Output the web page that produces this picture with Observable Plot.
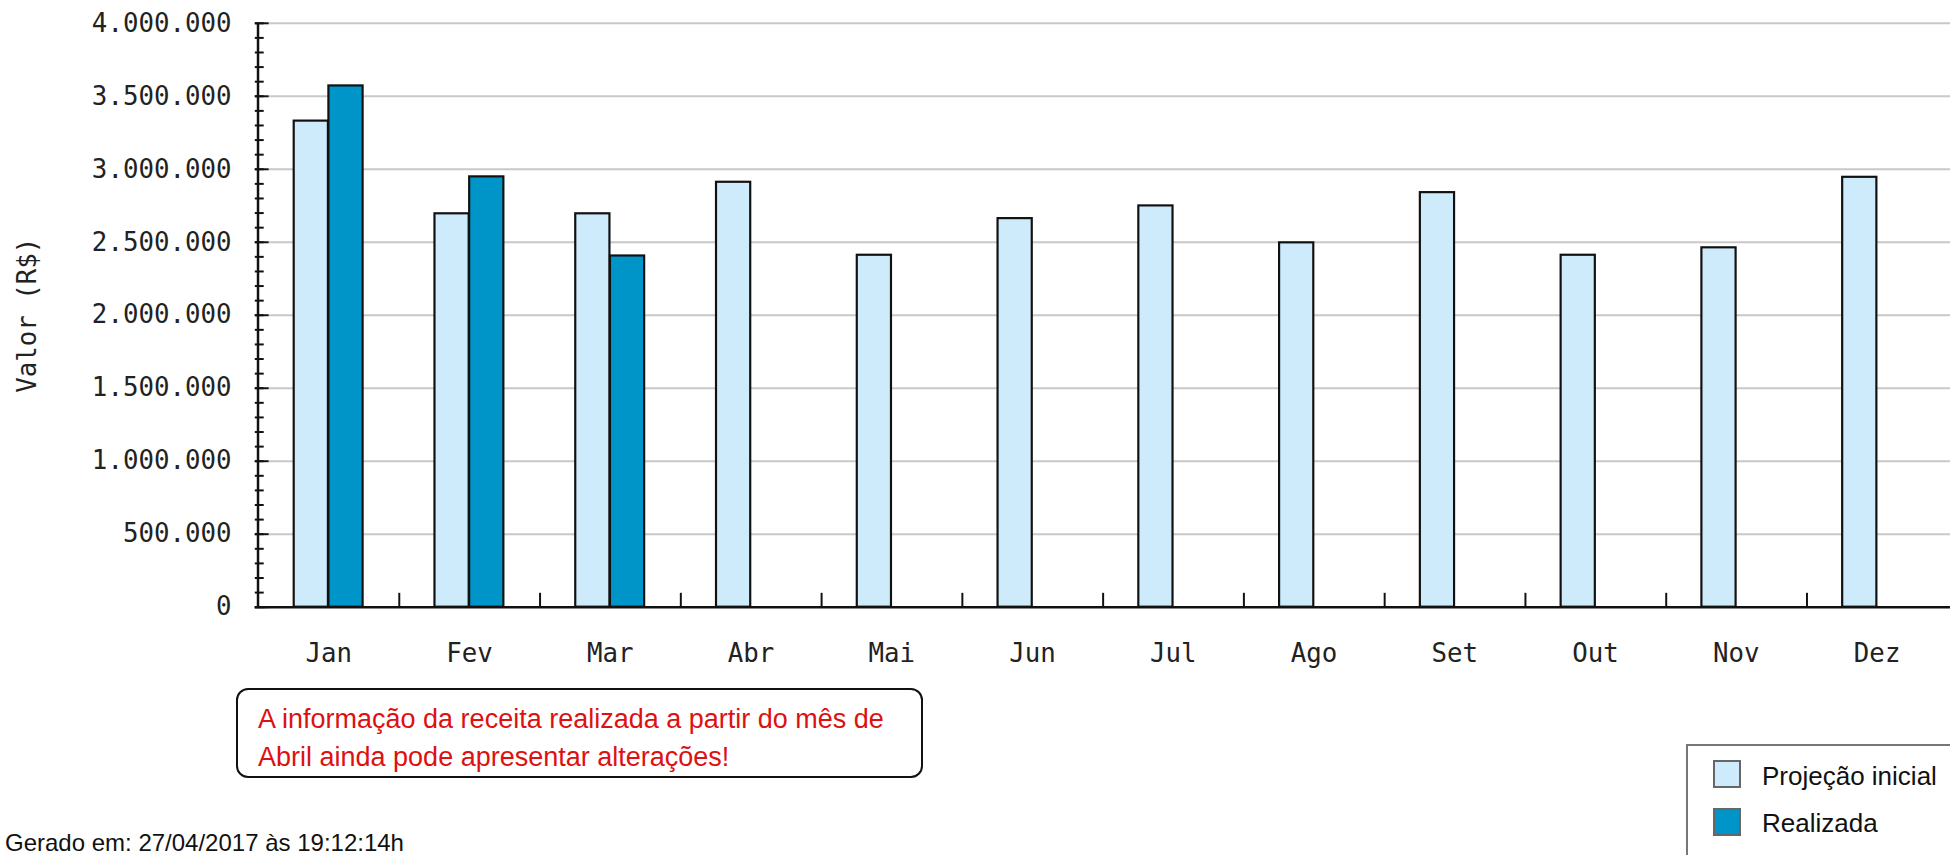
<!DOCTYPE html>
<html>
<head>
<meta charset="utf-8">
<script src="https://cdn.jsdelivr.net/npm/d3@7"></script>
<script src="https://cdn.jsdelivr.net/npm/@observablehq/plot@0.6"></script>
<style>
html, body { margin: 0; padding: 0; background: #fff; overflow: hidden; width: 1950px; height: 855px; }
#wrap { position: relative; width: 1950px; height: 855px; overflow: hidden; background: #fff; }
#chart { position: absolute; left: 0; top: 0; }
.note { position: absolute; left: 236px; top: 688px; width: 687px; height: 90px; box-sizing: border-box;
  border: 2px solid #111; border-radius: 12px; padding: 10px 0 0 20px;
  font-family: "Liberation Sans", Arial, sans-serif; font-size: 27px; line-height: 38px; color: #dd1111; letter-spacing: 0px; white-space: nowrap; }
.legend { position: absolute; left: 1686px; top: 744px; width: 320px; height: 160px; box-sizing: border-box; border: 2px solid #777; background: #fff; }
.sw { position: absolute; width: 28px; height: 28px; box-sizing: border-box; border: 2px solid #666; }
.lt { position: absolute; font-family: "Liberation Sans", Arial, sans-serif; font-size: 26px; line-height: 28px; color: #111; white-space: nowrap; }
.footer { position: absolute; left: 5px; top: 833px; font-family: "Liberation Sans", Arial, sans-serif; font-size: 24px; line-height: 20px; color: #111; white-space: nowrap; }
</style>
</head>
<body>
<div id="wrap">
  <div id="chart"></div>
  <div class="note">A informação da receita realizada a partir do mês de<br>Abril ainda pode apresentar alterações!</div>
  <div class="legend"></div>
  <div id="legendItems"></div>
  <div class="footer">Gerado em: 27/04/2017 às 19:12:14h</div>
</div>
<script>
// ---- data ----
const months = ["Jan", "Fev", "Mar", "Abr", "Mai", "Jun", "Jul", "Ago", "Set", "Out", "Nov", "Dez"];
const projecaoInicial = [3330000, 2695000, 2695000, 2911000, 2411000, 2662000, 2749000, 2496000, 2840000, 2411000, 2462000, 2945000];
const realizada = [3571000, 2948000, 2406000, null, null, null, null, null, null, null, null, null];
const yMajorTicks = [0, 500000, 1000000, 1500000, 2000000, 2500000, 3000000, 3500000, 4000000];
const yMinorTicks = d3.range(0, 4000001, 100000);
const seriesNames = ["Projeção inicial", "Realizada"];
const seriesColors = ["#cdebfb", "#0095c8"];

// ---- layout ----
const W = 1967, H = 680, ML = 257, MT = 23, MB = 68, MR = 0;
const plotW = W - ML - MR, plotH = H - MT - MB;
const step = plotW / months.length;
const barW = 35;
const outer = (step - 2 * barW) / 2;

const rowsP = months.map((m, i) => ({month: m, value: projecaoInicial[i]}));
const rowsR = months.map((m, i) => ({month: m, value: realizada[i]})).filter(d => d.value != null);

const ptBR = d3.formatLocale({decimal: ",", thousands: ".", grouping: [3], currency: ["R$", ""]});
const fmt = ptBR.format(",d");

const chart = Plot.plot({
  width: W, height: H,
  marginLeft: ML, marginRight: MR, marginTop: MT, marginBottom: MB,
  style: {fontFamily: "'DejaVu Sans Mono', monospace", fontSize: "26px", color: "#222", background: "#fff", overflow: "visible"},
  x: {type: "band", domain: months, padding: 0},
  y: {domain: [0, 4000000]},
  marks: [
    Plot.ruleY(yMajorTicks.filter(d => d > 0), {stroke: "#c8c8c8", strokeWidth: 2, insetLeft: 14}),
    Plot.barY(rowsP, {x: "month", y: "value", fill: seriesColors[0], stroke: "#111", strokeWidth: 2.2,
      insetLeft: outer, insetRight: step - outer - barW}),
    Plot.barY(rowsR, {x: "month", y: "value", fill: seriesColors[1], stroke: "#111", strokeWidth: 2.2,
      insetLeft: outer + barW, insetRight: outer}),
    Plot.ruleY(yMinorTicks, {stroke: "#111", strokeWidth: 2, insetRight: plotW - 9}),
    Plot.ruleY(yMajorTicks, {stroke: "#111", strokeWidth: 2, insetRight: plotW - 14}),
    Plot.ruleX(months.slice(0, months.length - 1), {dx: step / 2, stroke: "#111", strokeWidth: 2, insetTop: plotH - 14}),
    Plot.ruleX([months[0]], {dx: -step / 2, stroke: "#111", strokeWidth: 2.5}),
    Plot.ruleY([0], {stroke: "#111", strokeWidth: 2.5}),
    Plot.axisY({ticks: yMajorTicks, tickFormat: fmt, tickSize: 0, tickPadding: 24, label: "Valor (R$)",
      labelAnchor: "center", labelOffset: 240, labelArrow: "none"}),
    Plot.axisX({tickSize: 0, tickPadding: 37, label: null})
  ]
});
document.getElementById("chart").appendChild(chart);

// ---- legend ----
const li = document.getElementById("legendItems");
const swTops = [760, 808];
const txtTops = [762, 809];
seriesNames.forEach((name, i) => {
  const sw = document.createElement("div");
  sw.className = "sw";
  sw.style.left = "1713px";
  sw.style.top = swTops[i] + "px";
  sw.style.background = seriesColors[i];
  li.appendChild(sw);
  const t = document.createElement("div");
  t.className = "lt";
  t.style.left = "1762px";
  t.style.top = txtTops[i] + "px";
  t.textContent = name;
  li.appendChild(t);
});
</script>
</body>
</html>
